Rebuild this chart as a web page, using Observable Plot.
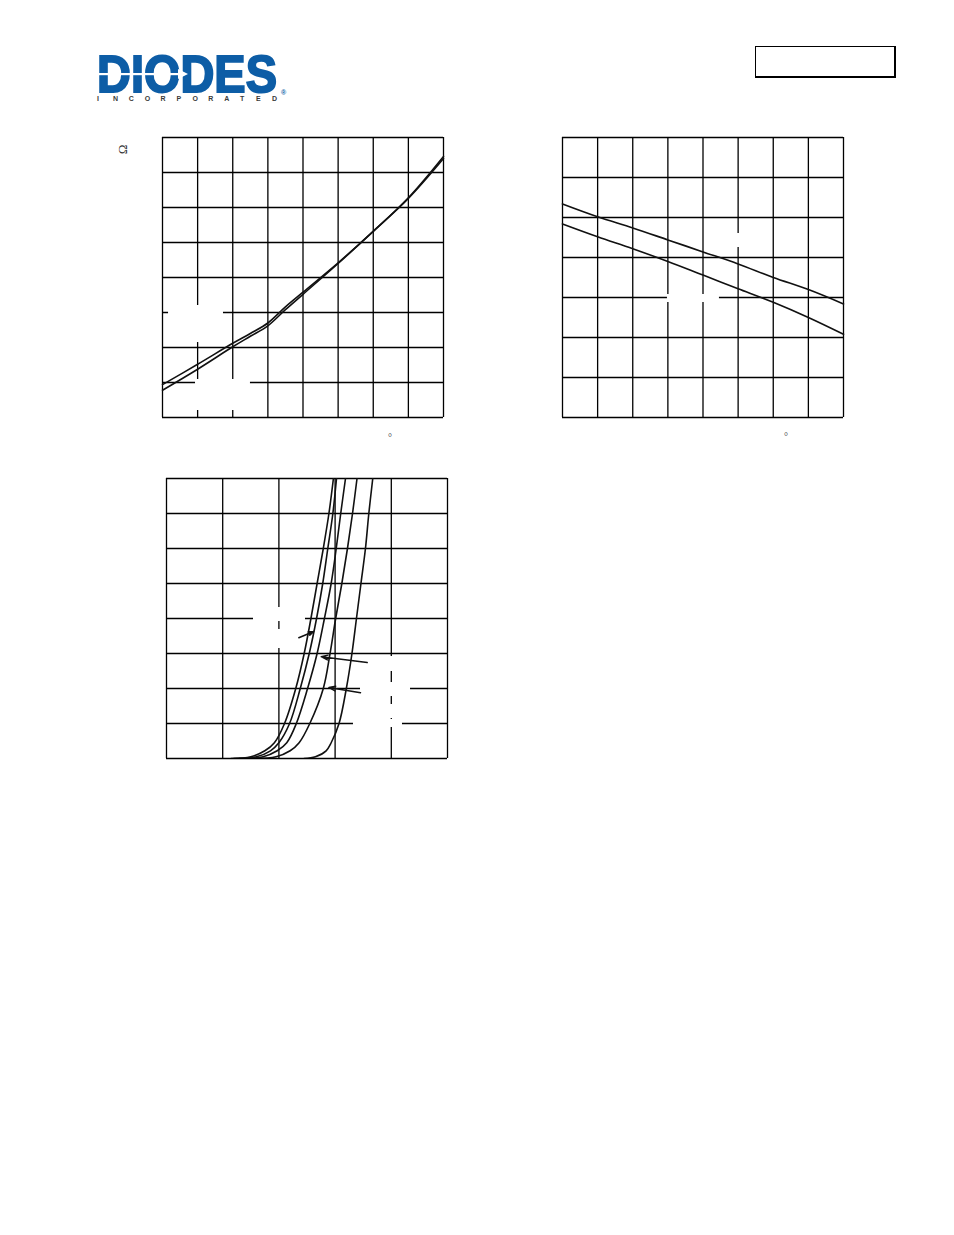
<!DOCTYPE html>
<html>
<head>
<meta charset="utf-8">
<script src="https://cdn.jsdelivr.net/npm/d3@7"></script>
<script src="https://cdn.jsdelivr.net/npm/@observablehq/plot@0.6"></script>
<style>
  html, body { margin: 0; padding: 0; background: #fff; }
  #page { position: relative; width: 954px; height: 1235px; overflow: hidden; background: #fff; font-family: "Liberation Serif", "DejaVu Serif", serif; }
  .chart { position: absolute; }
  .chart svg { overflow: visible; background: transparent; max-width: none; }
  .abs { position: absolute; white-space: nowrap; line-height: 1; }
</style>
</head>
<body>
<div id="page">
  <svg class="abs" style="left:90px;top:48px;overflow:visible" width="210" height="60">
    <text transform="translate(7,44) scale(1,1.09)" x="0" y="0" font-family="Liberation Sans, Arial, sans-serif" font-weight="900" font-size="47" fill="#0d5da6" stroke="#0d5da6" stroke-width="1.8" textLength="180" lengthAdjust="spacingAndGlyphs">DIODES</text>
    <rect x="8" y="25" width="86" height="2.2" fill="#fff"></rect>
    <path d="M88,21 L98,26 L88,31 Z" fill="#fff"></path>
    <text x="7 22.9 38.8 54.7 70.6 86.5 102.4 118.3 134.2 150.1 166 181.9" y="52.5" font-family="Liberation Sans, Arial, sans-serif" font-weight="700" font-size="7" fill="#3a3a3a">INCORPORATED</text>
    <text x="191" y="47" font-family="Liberation Sans, Arial, sans-serif" font-weight="700" font-size="7" fill="#0d5da6">®</text>
  </svg>
  <div class="abs" style="left:755px;top:46px;width:138px;height:29px;border-left:1.3px solid #000;border-top:1.3px solid #000;border-right:2.2px solid #000;border-bottom:2.2px solid #000;"></div>
  <div class="abs" style="left:118px;top:143px;font-size:13px;color:#333;transform:rotate(-90deg);transform-origin:center;">Ω</div>
  <div class="abs" style="left:388px;top:433px;font-size:10px;color:#444;">°</div>
  <div class="abs" style="left:784px;top:432px;font-size:10px;color:#444;">°</div>
</div>
<script>
// ---------- Chart 1 : resistance vs temperature ----------
const temp1 = [-50, -25, 0, 12.5, 25, 37.5, 50, 75, 100, 125, 150];
const res1A = [0.47, 0.76, 1.06, 1.20, 1.35, 1.58, 1.79, 2.21, 2.66, 3.14, 3.73];
const res1B = [0.39, 0.69, 1.01, 1.16, 1.31, 1.54, 1.76, 2.20, 2.66, 3.13, 3.70];
const xTicks1 = [-50, -25, 0, 25, 50, 75, 100, 125, 150];
const yTicks1 = [0, 0.5, 1, 1.5, 2, 2.5, 3, 3.5, 4];
const boxes1 = [
  {x1: -45.7, x2: -6.6, y1: 1.071, y2: 1.6},
  {x1: -26.5, x2: 12.6, y1: 0.10, y2: 0.543}
];

// ---------- Chart 2 : threshold voltage vs temperature ----------
const temp2 = [-50, -25, 0, 25, 50, 75, 100, 125, 150];
const vth2Upper = [2.67, 2.51, 2.37, 2.22, 2.07, 1.92, 1.75, 1.60, 1.42];
const vth2Lower = [2.42, 2.26, 2.11, 1.95, 1.78, 1.61, 1.44, 1.25, 1.04];
const xTicks2 = [-50, -25, 0, 25, 50, 75, 100, 125, 150];
const yTicks2 = [0, 0.5, 1, 1.5, 2, 2.5, 3, 3.5];
const boxes2 = [
  {x1: 24.7, x2: 61.7, y1: 1.4375, y2: 1.5375},
  {x1: 69.6, x2: 81.0, y1: 2.125, y2: 2.30}
];

// ---------- Chart 3 : transfer characteristics ----------
const idLevels = [0, 0.05, 0.22, 0.45, 1, 2, 3, 4, 5, 6, 7, 8];
const vgsCurve1 = [1.15, 1.50, 1.75, 1.92, 2.10, 2.30, 2.45, 2.57, 2.68, 2.79, 2.89, 2.97];
const vgsCurve2 = [1.20, 1.60, 1.85, 2.00, 2.19, 2.38, 2.54, 2.67, 2.78, 2.87, 2.96, 3.025];
const vgsCurve3 = [1.30, 1.72, 1.97, 2.14, 2.31, 2.51, 2.68, 2.81, 2.93, 3.02, 3.10, 3.185];
const vgsCurve4 = [1.45, 1.95, 2.20, 2.36, 2.55, 2.79, 2.91, 3.01, 3.12, 3.22, 3.31, 3.39];
const vgsCurve5 = [2.45, 2.65, 2.84, 2.93, 3.07, 3.20, 3.30, 3.38, 3.46, 3.54, 3.60, 3.67];
const xTicks3 = [0, 1, 2, 3, 4, 5];
const yTicks3 = [0, 1, 2, 3, 4, 5, 6, 7, 8];
const arrows3 = [
  {x1: 2.354, y1: 3.45, x2: 2.62, y2: 3.63},
  {x1: 3.571, y1: 2.74, x2: 2.752, y2: 2.91},
  {x1: 3.452, y1: 1.88, x2: 2.889, y2: 2.03}
];
const boxes3 = [
  {x1: 1.548, x2: 2.473, y1: 3.914, y2: 4.314},
  {x1: 1.548, x2: 2.473, y1: 3.143, y2: 3.686},
  {x1: 3.452, x2: 4.342, y1: 2.486, y2: 2.914},
  {x1: 3.452, x2: 4.342, y1: 1.771, y2: 2.171},
  {x1: 3.327, x2: 4.199, y1: 1.143, y2: 1.543},
  {x1: 3.327, x2: 4.199, y1: 0.886, y2: 1.114}
];

// ---------- helpers ----------
const M = 6;
function place(svg, left, top) {
  const d = document.createElement("div");
  d.className = "chart";
  d.style.left = (left - M) + "px";
  d.style.top = (top - M) + "px";
  d.appendChild(svg);
  document.getElementById("page").appendChild(d);
}
function series(xs, ys, key) { return xs.map((x, i) => ({x, y: ys[i], key})); }
function gridMarks(xt, yt) {
  return [
    Plot.ruleX(xt, {stroke: "#000", strokeWidth: 1.3}),
    Plot.ruleY(yt, {stroke: "#000", strokeWidth: 1.3})
  ];
}
function base(w, h, xd, yd, marks) {
  return Plot.plot({
    width: w + 2 * M, height: h + 2 * M,
    marginLeft: M, marginRight: M, marginTop: M, marginBottom: M,
    x: {domain: xd, axis: null},
    y: {domain: yd, axis: null},
    style: {background: "transparent", overflow: "visible"},
    marks
  });
}

// Chart 1
const data1 = [...series(temp1, res1A, "A"), ...series(temp1, res1B, "B")];
place(base(281, 280, [-50, 150], [0, 4], [
  ...gridMarks(xTicks1, yTicks1),
  Plot.rect(boxes1, {x1: "x1", x2: "x2", y1: "y1", y2: "y2", fill: "#fff"}),
  Plot.line(data1, {x: "x", y: "y", z: "key", stroke: "#111", strokeWidth: 1.6, curve: "catmull-rom"})
]), 162, 137);

// Chart 2
const data2 = [...series(temp2, vth2Upper, "U"), ...series(temp2, vth2Lower, "L")];
place(base(281, 280, [-50, 150], [0, 3.5], [
  ...gridMarks(xTicks2, yTicks2),
  Plot.rect(boxes2, {x1: "x1", x2: "x2", y1: "y1", y2: "y2", fill: "#fff"}),
  Plot.line(data2, {x: "x", y: "y", z: "key", stroke: "#111", strokeWidth: 1.6, curve: "catmull-rom"})
]), 562, 137);

// Chart 3
const curves3 = [vgsCurve1, vgsCurve2, vgsCurve3, vgsCurve4, vgsCurve5];
const data3 = curves3.flatMap((c, k) => series(c, idLevels, "c" + k));
place(base(281, 280, [0, 5], [0, 8], [
  ...gridMarks(xTicks3, yTicks3),
  Plot.rect(boxes3, {x1: "x1", x2: "x2", y1: "y1", y2: "y2", fill: "#fff"}),
  Plot.line(data3, {x: "x", y: "y", z: "key", stroke: "#111", strokeWidth: 1.6, curve: "catmull-rom", clip: true}),
  Plot.arrow(arrows3, {x1: "x1", y1: "y1", x2: "x2", y2: "y2", stroke: "#111", strokeWidth: 1.5, headLength: 7, headAngle: 40})
]), 166, 478);
</script>
</body>
</html>
